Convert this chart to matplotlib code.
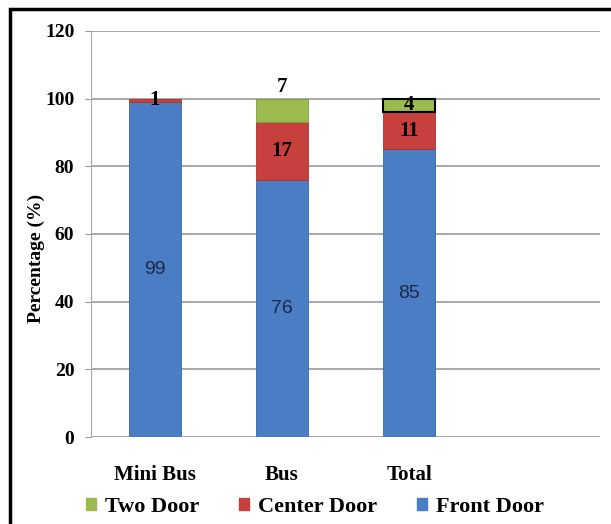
import numpy as np
import matplotlib.pyplot as plt
from matplotlib.patches import Rectangle

# share of boarding by door, per vehicle type (%)
categories = ['Mini Bus', 'Bus', 'Total']
front_door = [99, 76, 85]
center_door = [1, 17, 11]
two_door = [0, 7, 4]

blue = '#4a7dc4'
red = '#c8403d'
green = '#9bbb4f'

serif = 'Liberation Serif'

fig = plt.figure(figsize=(6.11, 5.24), dpi=100)
ax = fig.add_axes([0.149, 0.166, 0.833, 0.775])

x = np.arange(len(categories))
w = 0.41
front = np.array(front_door)
center = np.array(center_door)
two = np.array(two_door)

ax.bar(x, front, w, color=blue, edgecolor='#3a66a6', linewidth=0.6, zorder=3)
ax.bar(x, center, w, bottom=front, color=red, edgecolor='#a83532', linewidth=0.6, zorder=3)
two_bars = ax.bar(x, two, w, bottom=front + center, color=green, edgecolor='#7f9c3c',
                  linewidth=0.6, zorder=3)
# the Total bar's top segment is outlined in black
two_bars[2].set_edgecolor('black')
two_bars[2].set_linewidth(1.5)
two_bars[0].set_visible(False)

# value labels
for i in range(len(categories)):
    ax.text(x[i], front[i] / 2, str(front[i]), ha='center', va='center',
            fontsize=14, family='Liberation Sans', color='#1c2a48', zorder=4)
    ax.text(x[i], front[i] + center[i] / 2, str(center[i]), ha='center', va='center',
            fontsize=15, family=serif, fontweight='bold', color='black', zorder=4)
    if two[i] > 0:
        top = front[i] + center[i] + two[i]
        if two[i] >= 5:
            ypos = top + 3.5
        else:
            ypos = top - two[i] / 2
        ax.text(x[i], ypos, str(two[i]), ha='center', va='center',
                fontsize=15, family=serif, fontweight='bold', color='black', zorder=4)

ax.set_xlim(-0.5, 3.5)
ax.set_ylim(0, 120)
ax.set_yticks(np.arange(0, 121, 20))
ax.set_xticks(x)
ax.set_xticklabels(categories, family=serif, fontweight='bold', fontsize=15)
for lab in ax.get_yticklabels():
    lab.set_family(serif)
    lab.set_fontweight('bold')
    lab.set_fontsize(14)
ax.tick_params(axis='x', length=0, pad=20)
ax.tick_params(axis='y', length=4, color='#999999', pad=8)
ax.grid(axis='y', color='#9a9a9a', linewidth=1.2, zorder=0)
for side in ['top', 'right', 'bottom']:
    ax.spines[side].set_visible(False)
ax.spines['left'].set_color('#aaaaaa')
ax.set_ylabel('Percentage (%)', family=serif, fontweight='bold', fontsize=14)
ax.yaxis.set_label_coords(-0.09, 0.44)

handles = [Rectangle((0, 0), 1, 1, color=c) for c in (green, red, blue)]
fig.legend(handles, ['Two Door', 'Center Door', 'Front Door'], ncol=3,
           loc='center', bbox_to_anchor=(0.515, 0.032), frameon=False,
           prop={'family': serif, 'weight': 'bold', 'size': 16},
           handlelength=0.45, handleheight=0.45, handletextpad=0.4, columnspacing=1.8)

# outer frame
fig.patches.append(Rectangle((10 / 611, -0.1), 1.2, 1 - 9 / 524 + 0.1,
                             transform=fig.transFigure, fill=False,
                             edgecolor='black', linewidth=2.5))

fig.savefig('out.png', dpi=100)
